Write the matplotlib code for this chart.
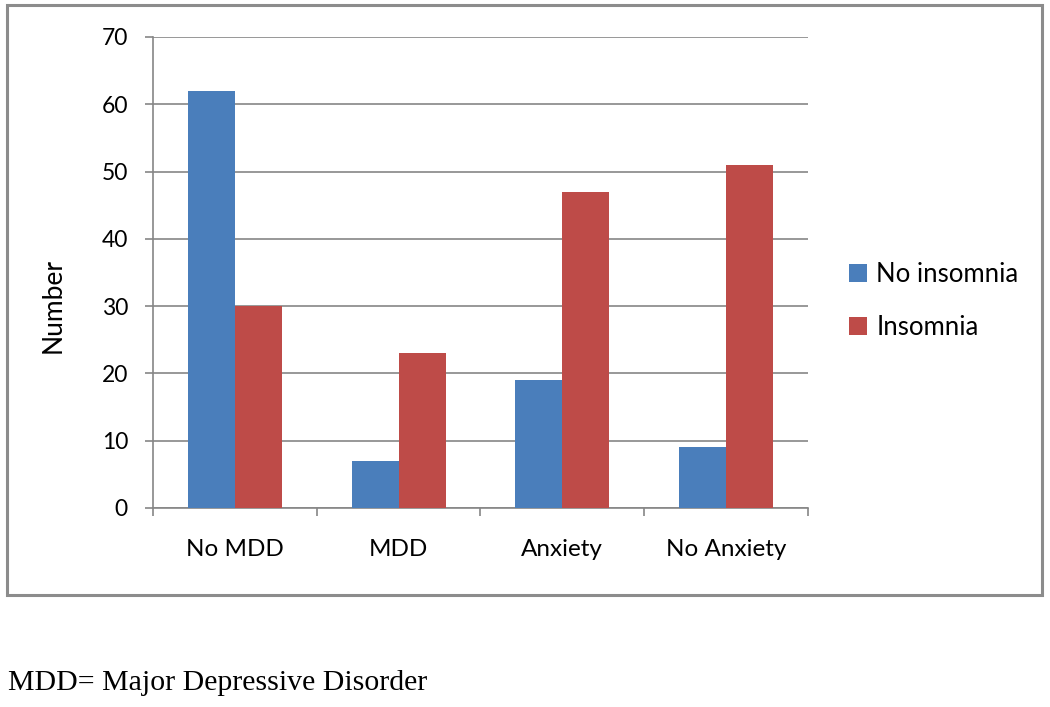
import numpy as np
import matplotlib.pyplot as plt
from matplotlib.patches import Rectangle

categories = ['No MDD', 'MDD', 'Anxiety', 'No Anxiety']
no_insomnia = [62, 7, 19, 9]
insomnia = [30, 23, 47, 51]

plt.rcParams['font.family'] = ['Lato', 'DejaVu Sans']

fig = plt.figure(figsize=(10.5, 7.07), dpi=100)
ax = fig.add_axes([0.1457, 0.2815, 0.6238, 0.6662])

x = np.arange(len(categories))
w = 0.287
grey = '#868686'

ax.bar(x - w / 2, no_insomnia, w, color='#4A7EBB', label='No insomnia', zorder=3)
ax.bar(x + w / 2, insomnia, w, color='#BE4B48', label='Insomnia', zorder=3)

ax.set_xlim(-0.5, len(categories) - 0.5)
ax.set_ylim(0, 70)
ax.set_yticks(range(0, 71, 10))
ax.yaxis.grid(True, color=grey, linewidth=1.2, zorder=0)

ax.set_xticks(x)
ax.set_xticklabels(categories)
ax.set_xticks(np.arange(-0.5, len(categories)), minor=True)
ax.tick_params(axis='x', which='major', length=0, pad=22, labelsize=17.5)
ax.tick_params(axis='x', which='minor', length=6, width=1.2, color=grey, direction='out')
ax.tick_params(axis='y', length=6, width=1.2, color=grey, pad=12, labelsize=16.5)

for s in ['top', 'right']:
    ax.spines[s].set_visible(False)
for s in ['left', 'bottom']:
    ax.spines[s].set_color(grey)
    ax.spines[s].set_linewidth(1.2)

ax.set_ylabel('Number', fontsize=19)
ax.yaxis.set_label_coords(-0.134, 0.43)

fig.legend(loc='center left', bbox_to_anchor=(0.787, 0.574), frameon=False,
           fontsize=18.5, handlelength=0.7, handleheight=0.7,
           handletextpad=0.35, labelspacing=1.1)

# outer chart border
fig.add_artist(Rectangle((7 / 1050, 1 - 595 / 707), 1035 / 1050, 590 / 707,
                         transform=fig.transFigure, fill=False,
                         edgecolor='#8c8c8c', linewidth=2.2))

fig.text(8 / 1050, 1 - 683 / 707, 'MDD= Major Depressive Disorder',
         family='Liberation Serif', fontsize=21.5, va='center', ha='left')

fig.savefig('out.png', dpi=100)
